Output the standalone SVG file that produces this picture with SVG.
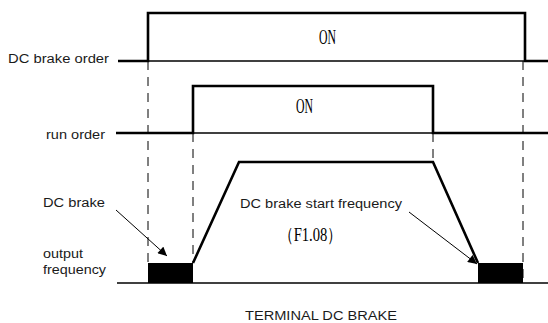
<svg xmlns="http://www.w3.org/2000/svg" width="548" height="323" viewBox="0 0 548 323">
<defs>
<style>
.lbl{font-family:"Liberation Sans",Arial,sans-serif;font-size:12.5px;fill:#1a1a1a}
.on{font-family:"Liberation Serif","Times New Roman",serif;font-size:22px;fill:#000}
.thick{stroke:#000;stroke-width:2.6;fill:none;stroke-linejoin:miter}
.thin{stroke:#000;stroke-width:1.3;fill:none}
.dash{stroke:#000;stroke-width:1;fill:none;stroke-dasharray:9 7}
.arr{stroke:#000;stroke-width:1;fill:none}
</style>
<marker id="ah" viewBox="0 0 10 10" refX="10" refY="5" markerWidth="10" markerHeight="9" markerUnits="userSpaceOnUse" orient="auto">
<path d="M0,0 L10,5 L0,10 z" fill="#000"/>
</marker>
</defs>
<rect width="548" height="323" fill="#fff"/>

<g id="connectors">
<line class="dash" x1="148" y1="61" x2="148" y2="263"/>
<line class="dash" x1="193" y1="133" x2="193" y2="263"/>
<line class="dash" x1="433" y1="133" x2="433" y2="162"/>
<line class="dash" x1="523" y1="61" x2="523" y2="283"/>
<line class="arr" x1="116" y1="210" x2="167" y2="256" marker-end="url(#ah)"/>
<line class="arr" x1="409" y1="212" x2="477" y2="264" marker-end="url(#ah)"/>
</g>

<g id="dc-brake-order">
<text class="lbl" x="8" y="63" textLength="101" lengthAdjust="spacingAndGlyphs">DC brake order</text>
<polyline class="thick" points="118,61 148,61 148,13 525,13 525,61 548,61"/>
<line class="thin" x1="148" y1="61" x2="525" y2="61"/>
<text class="on" x="319" y="44" textLength="17" lengthAdjust="spacingAndGlyphs">ON</text>
</g>

<g id="run-order">
<text class="lbl" x="46" y="139" textLength="59" lengthAdjust="spacingAndGlyphs">run order</text>
<polyline class="thick" points="116,133 193,133 193,86 433,86 433,133 548,133"/>
<line class="thin" x1="193" y1="133" x2="433" y2="133"/>
<text class="on" x="296" y="113" textLength="17" lengthAdjust="spacingAndGlyphs">ON</text>
</g>

<g id="output-frequency">
<text class="lbl" x="43" y="207" textLength="62" lengthAdjust="spacingAndGlyphs">DC brake</text>
<text class="lbl" x="43" y="258" textLength="40" lengthAdjust="spacingAndGlyphs">output</text>
<text class="lbl" x="43" y="274" textLength="63" lengthAdjust="spacingAndGlyphs">frequency</text>
<line class="thin" x1="117" y1="283" x2="548" y2="283"/>
<rect x="148" y="263" width="45" height="20" fill="#000"/>
<rect x="478" y="263" width="45" height="20" fill="#000"/>
<polyline class="thick" points="193,263 239,162 433,162 478,263"/>
<text class="lbl" x="240" y="208" textLength="162" lengthAdjust="spacingAndGlyphs">DC brake start frequency</text>
<text class="on" style="font-size:19px" x="279" y="241" textLength="63" lengthAdjust="spacingAndGlyphs">（F1.08）</text>
</g>

<g id="title">
<text class="lbl" x="245" y="320" textLength="152" lengthAdjust="spacingAndGlyphs">TERMINAL DC BRAKE</text>
</g>
</svg>
